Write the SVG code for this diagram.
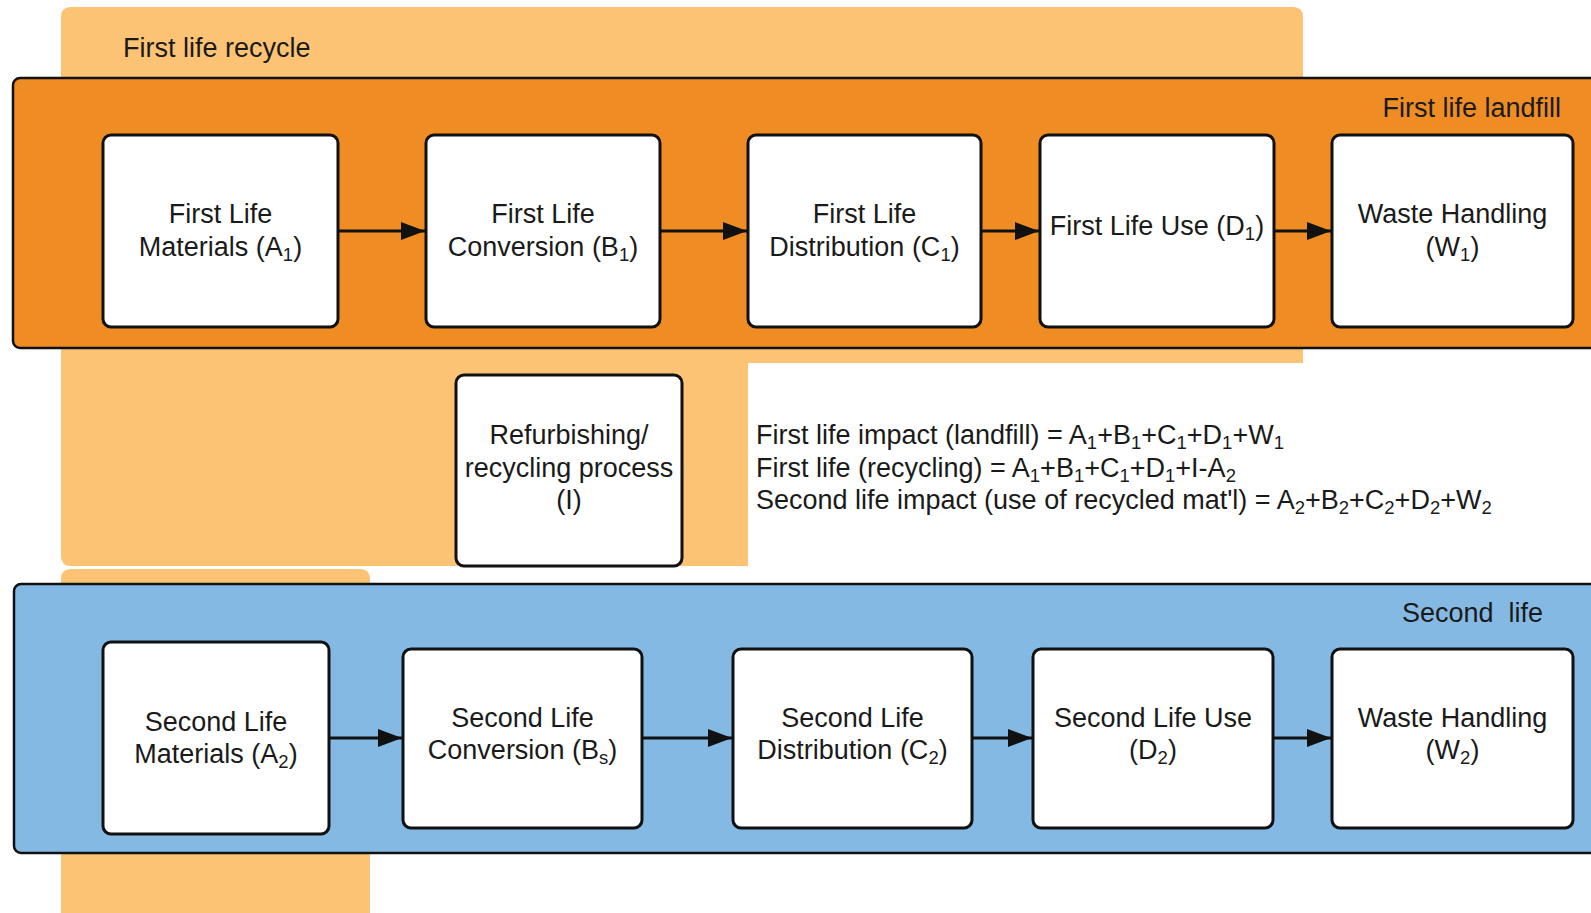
<svg xmlns="http://www.w3.org/2000/svg" width="1591" height="913" viewBox="0 0 1591 913">
<style>
text{font-family:"Liberation Sans",Arial,sans-serif;font-size:27px;fill:#1a1a1a}
.c{text-anchor:middle}
.r{text-anchor:end}
.box{fill:#ffffff;stroke:#111;stroke-width:3}
.band{stroke:#111;stroke-width:2.5}
.conn{stroke:#111;stroke-width:3;fill:none;marker-end:url(#ah)}
.s{font-size:18.5px}
</style>
<defs>
<marker id="ah" viewBox="0 0 10 10" refX="10" refY="5" markerUnits="userSpaceOnUse" markerWidth="24" markerHeight="18" orient="auto" preserveAspectRatio="none">
<path d="M0,0 L10,5 L0,10 Z" fill="#111"/>
</marker>
</defs>
<rect width="1591" height="913" fill="#ffffff"/>
<g id="recycle-region">
<path d="M71,7 H1293 Q1303,7 1303,17 V363 H748 V566 H71 Q61,566 61,556 V17 Q61,7 71,7 Z" fill="#FDC375"/>
<path d="M71,569 H360 Q370,569 370,579 V913 H61 V579 Q61,569 71,569 Z" fill="#FDC375"/>
<text x="123" y="57">First life recycle</text>
</g>
<g id="landfill-band">
<rect class="band" x="13" y="78" width="1600" height="270" rx="7" fill="#EF8D24"/>
<text class="r" x="1561" y="117">First life landfill</text>
</g>
<g id="second-band">
<rect class="band" x="14" y="584" width="1600" height="269" rx="7" fill="#84B9E3"/>
<text class="r" x="1543" y="622" style="white-space:pre">Second  life</text>
</g>
<g id="connectors">
<line class="conn" x1="338" y1="231" x2="425" y2="231"/>
<line class="conn" x1="660" y1="231" x2="747" y2="231"/>
<line class="conn" x1="981" y1="231" x2="1039" y2="231"/>
<line class="conn" x1="1274" y1="231" x2="1331" y2="231"/>
<line class="conn" x1="329" y1="738" x2="402" y2="738"/>
<line class="conn" x1="642" y1="738" x2="732" y2="738"/>
<line class="conn" x1="972" y1="738" x2="1032" y2="738"/>
<line class="conn" x1="1273" y1="738" x2="1331" y2="738"/>
</g>
<g id="A1">
<rect class="box" x="103" y="135" width="235" height="192" rx="8"/>
<text class="c" x="220.5" y="223">First Life</text>
<text class="c" x="220.5" y="256">Materials (A<tspan class="s" dy="5">1</tspan><tspan dy="-5">)</tspan></text>
</g>
<g id="B1">
<rect class="box" x="426" y="135" width="234" height="192" rx="8"/>
<text class="c" x="543" y="223">First Life</text>
<text class="c" x="543" y="256">Conversion (B<tspan class="s" dy="5">1</tspan><tspan dy="-5">)</tspan></text>
</g>
<g id="C1">
<rect class="box" x="748" y="135" width="233" height="192" rx="8"/>
<text class="c" x="864.5" y="223">First Life</text>
<text class="c" x="864.5" y="256">Distribution (C<tspan class="s" dy="5">1</tspan><tspan dy="-5">)</tspan></text>
</g>
<g id="D1">
<rect class="box" x="1040" y="135" width="234" height="192" rx="8"/>
<text class="c" x="1157" y="235">First Life Use (D<tspan class="s" dy="5">1</tspan><tspan dy="-5">)</tspan></text>
</g>
<g id="W1">
<rect class="box" x="1332" y="135" width="241" height="192" rx="8"/>
<text class="c" x="1452.5" y="223">Waste Handling</text>
<text class="c" x="1452.5" y="256">(W<tspan class="s" dy="5">1</tspan><tspan dy="-5">)</tspan></text>
</g>
<g id="I">
<rect class="box" x="456" y="375" width="226" height="191" rx="8"/>
<text class="c" x="569" y="444">Refurbishing/</text>
<text class="c" x="569" y="477">recycling process</text>
<text class="c" x="569" y="509">(I)</text>
</g>
<g id="formulas">
<rect x="748" y="363" width="555" height="203" fill="#ffffff"/>
<text x="756" y="444">First life impact (landfill) = A<tspan class="s" dy="5">1</tspan><tspan dy="-5">+B</tspan><tspan class="s" dy="5">1</tspan><tspan dy="-5">+C</tspan><tspan class="s" dy="5">1</tspan><tspan dy="-5">+D</tspan><tspan class="s" dy="5">1</tspan><tspan dy="-5">+W</tspan><tspan class="s" dy="5">1</tspan></text>
<text x="756" y="477">First life (recycling) = A<tspan class="s" dy="5">1</tspan><tspan dy="-5">+B</tspan><tspan class="s" dy="5">1</tspan><tspan dy="-5">+C</tspan><tspan class="s" dy="5">1</tspan><tspan dy="-5">+D</tspan><tspan class="s" dy="5">1</tspan><tspan dy="-5">+I-A</tspan><tspan class="s" dy="5">2</tspan></text>
<text x="756" y="509">Second life impact (use of recycled mat'l) = A<tspan class="s" dy="5">2</tspan><tspan dy="-5">+B</tspan><tspan class="s" dy="5">2</tspan><tspan dy="-5">+C</tspan><tspan class="s" dy="5">2</tspan><tspan dy="-5">+D</tspan><tspan class="s" dy="5">2</tspan><tspan dy="-5">+W</tspan><tspan class="s" dy="5">2</tspan></text>
</g>
<g id="A2">
<rect class="box" x="103" y="642" width="226" height="192" rx="8"/>
<text class="c" x="216" y="731">Second Life</text>
<text class="c" x="216" y="763">Materials (A<tspan class="s" dy="5">2</tspan><tspan dy="-5">)</tspan></text>
</g>
<g id="B2">
<rect class="box" x="403" y="649" width="239" height="179" rx="8"/>
<text class="c" x="522.5" y="727">Second Life</text>
<text class="c" x="522.5" y="759">Conversion (B<tspan class="s" dy="5">s</tspan><tspan dy="-5">)</tspan></text>
</g>
<g id="C2">
<rect class="box" x="733" y="649" width="239" height="179" rx="8"/>
<text class="c" x="852.5" y="727">Second Life</text>
<text class="c" x="852.5" y="759">Distribution (C<tspan class="s" dy="5">2</tspan><tspan dy="-5">)</tspan></text>
</g>
<g id="D2">
<rect class="box" x="1033" y="649" width="240" height="179" rx="8"/>
<text class="c" x="1153" y="727">Second Life Use</text>
<text class="c" x="1153" y="759">(D<tspan class="s" dy="5">2</tspan><tspan dy="-5">)</tspan></text>
</g>
<g id="W2">
<rect class="box" x="1332" y="649" width="241" height="179" rx="8"/>
<text class="c" x="1452.5" y="727">Waste Handling</text>
<text class="c" x="1452.5" y="759">(W<tspan class="s" dy="5">2</tspan><tspan dy="-5">)</tspan></text>
</g>
</svg>
